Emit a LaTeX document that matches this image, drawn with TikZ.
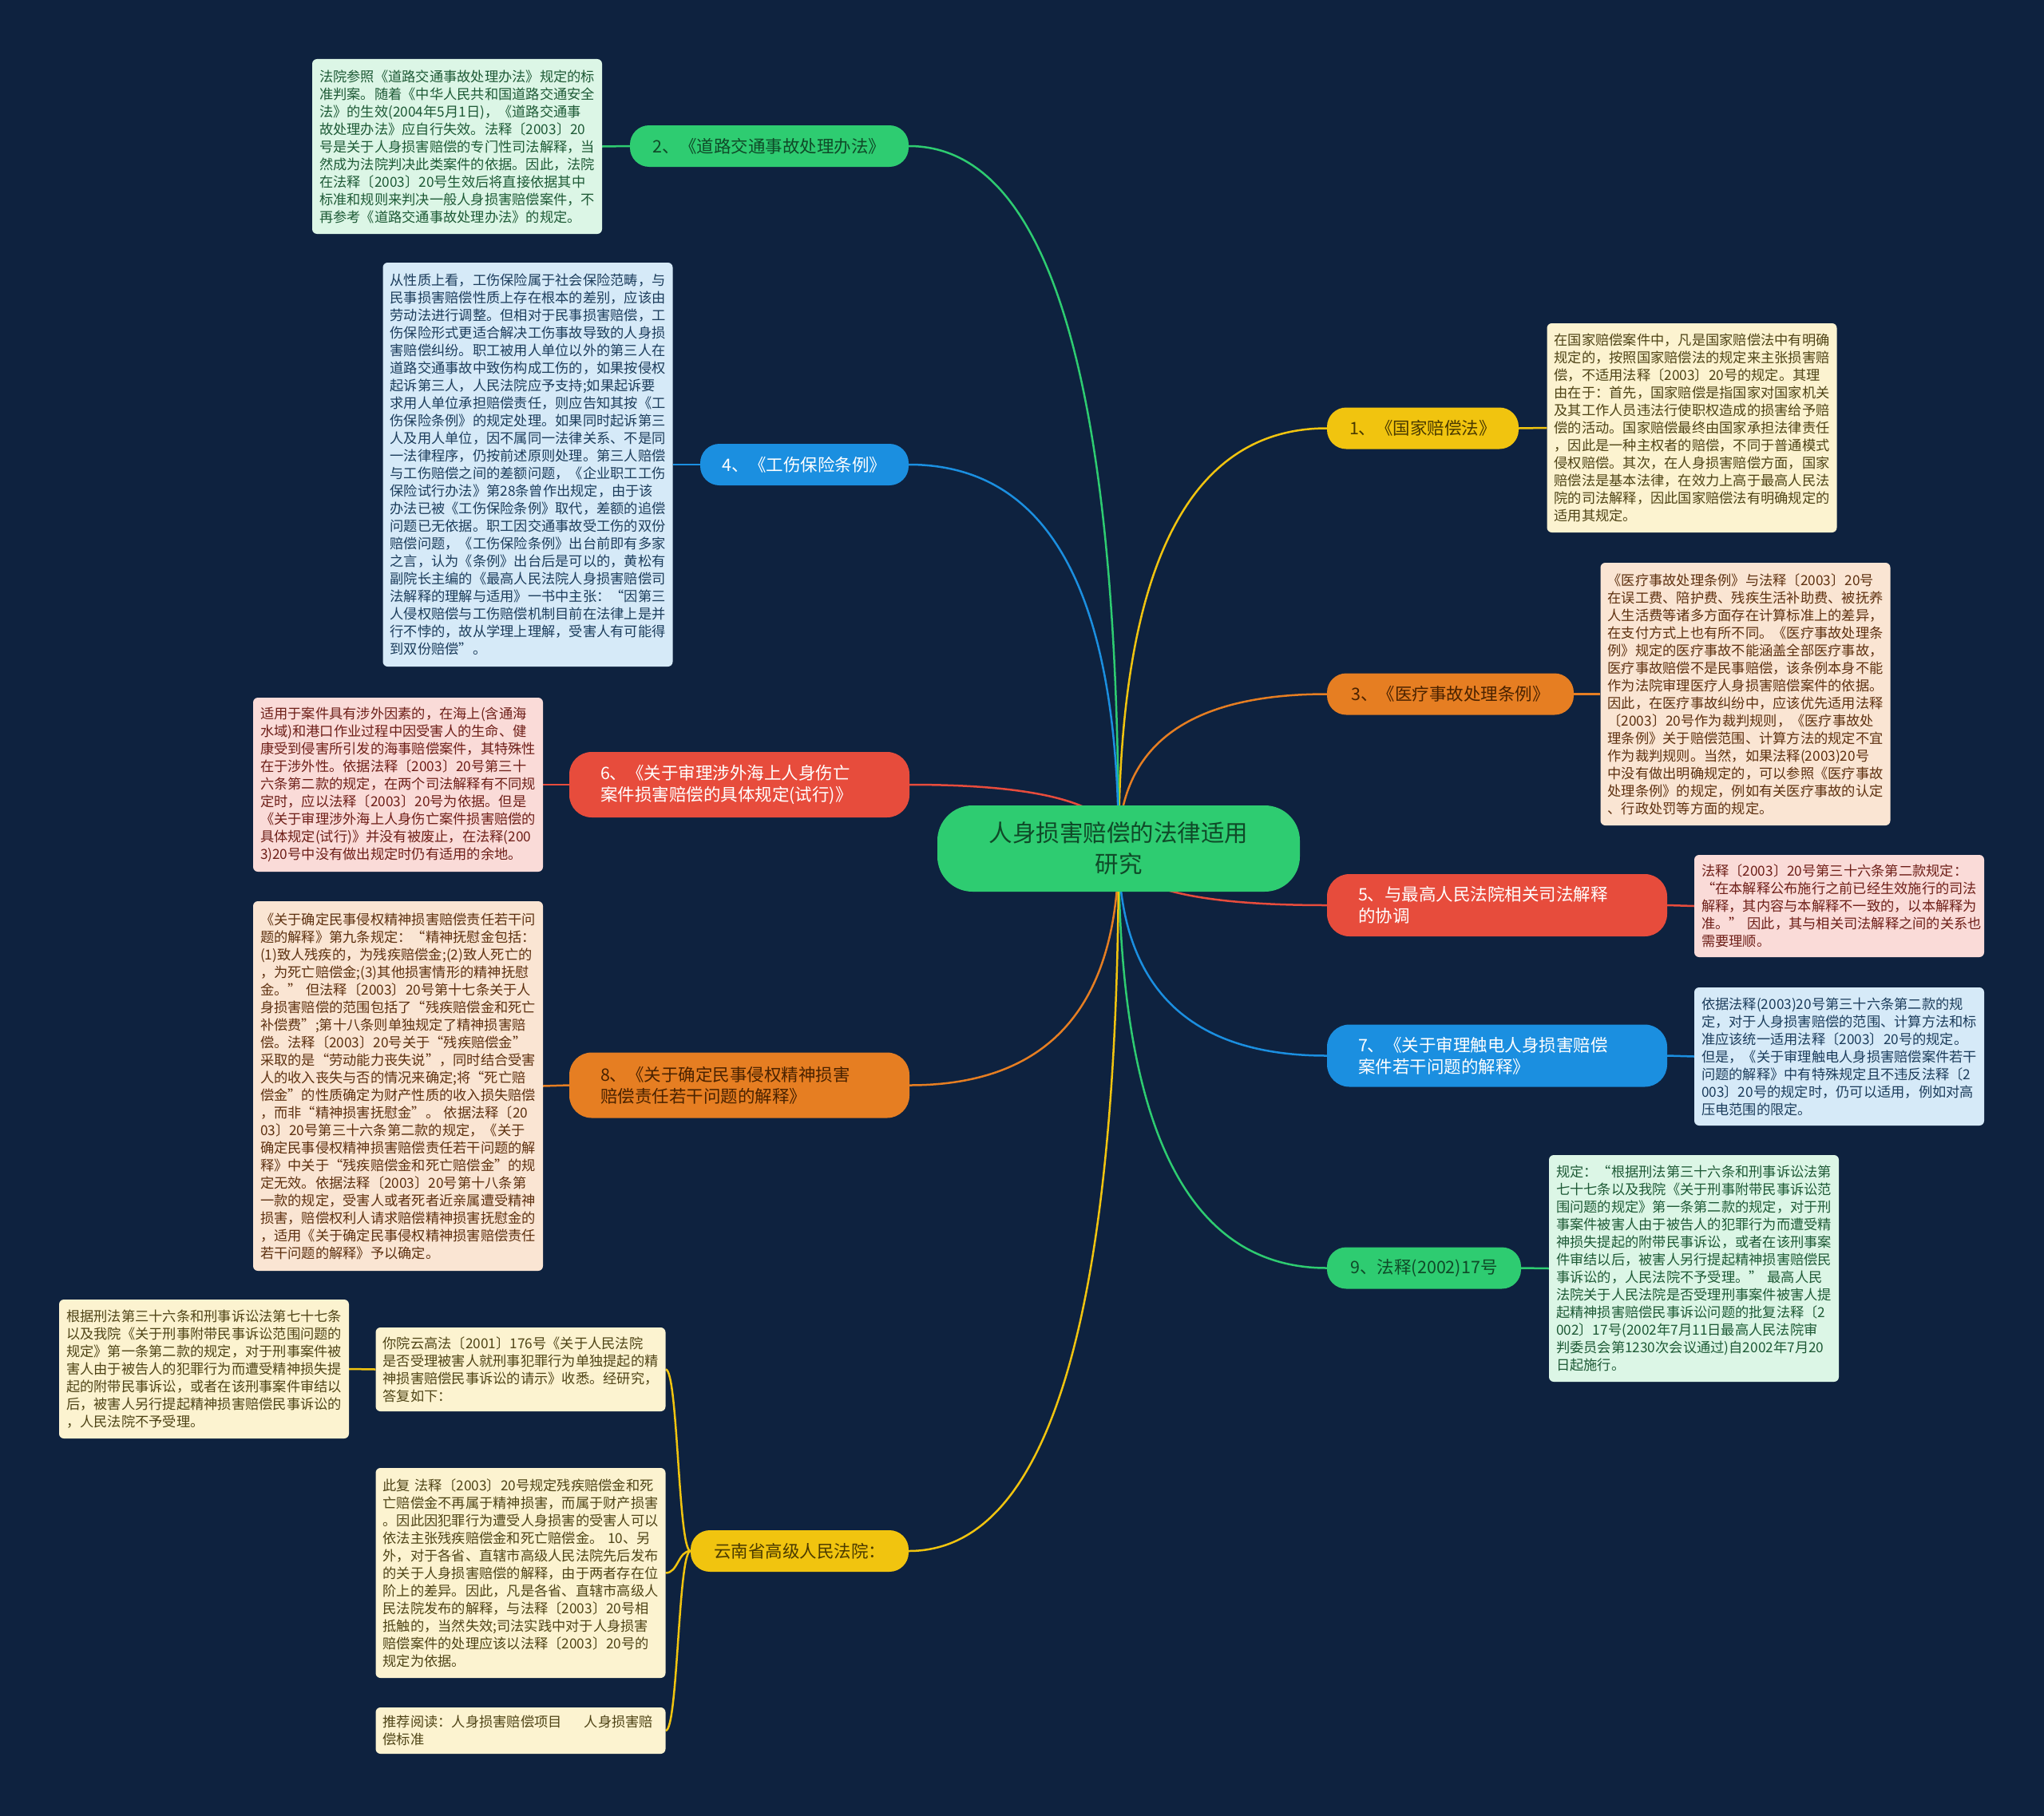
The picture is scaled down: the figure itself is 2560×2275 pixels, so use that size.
\documentclass[tikz,border=0pt]{standalone}
\usepackage{fontspec}
\setmainfont{Noto Sans CJK SC}
\usetikzlibrary{calc}
\pgfdeclarelayer{background}
\pgfsetlayers{background,main}
\definecolor{bgc}{HTML}{0E223F}
\definecolor{cgrn}{HTML}{2ECC71}
\definecolor{cblu}{HTML}{1B8FE0}
\definecolor{cred}{HTML}{E74C3C}
\definecolor{corg}{HTML}{E67E22}
\definecolor{cyel}{HTML}{F1C40F}
\definecolor{tgrn}{HTML}{0F4A28}
\definecolor{tyel}{HTML}{4A3A00}
\definecolor{torg}{HTML}{4A2200}
\definecolor{fgrn}{HTML}{DCF6E6}
\definecolor{fblu}{HTML}{D6EAF8}
\definecolor{fyel}{HTML}{FCF3D0}
\definecolor{forg}{HTML}{FAE5D3}
\definecolor{fred}{HTML}{FADBD8}
\definecolor{xgrn}{HTML}{1E5A36}
\definecolor{xblu}{HTML}{1C3D5C}
\definecolor{xyel}{HTML}{4F4416}
\definecolor{xorg}{HTML}{5E3110}
\definecolor{xred}{HTML}{6E1F18}
\tikzset{
  txtbox/.style={rounded corners=6, inner xsep=9, inner ysep=0, text width=345,
    align=left, font=\fontsize{17.25}{22}\selectfont, minimum height=#1},
  gbox/.style={txtbox=#1, fill=fgrn, text=xgrn},
  bbox/.style={txtbox=#1, fill=fblu, text=xblu},
  ybox/.style={txtbox=#1, fill=fyel, text=xyel},
  obox/.style={txtbox=#1, fill=forg, text=xorg},
  rbox/.style={txtbox=#1, fill=fred, text=xred},
  branch/.style={rounded corners=24, inner sep=0, font=\fontsize{21.5}{27}\selectfont,
    minimum height=52, align=center},
  branchtwo/.style={rounded corners=28, inner ysep=0, inner xsep=39, font=\fontsize{21.5}{27}\selectfont,
    minimum height=#1, text width=348, align=left},
  rootnode/.style={rounded corners=44, fill=cgrn, text=tgrn, minimum width=454, minimum height=108,
    inner sep=0, align=center, font=\fontsize{29.5}{39}\selectfont},
  conn/.style={line width=2.5},
}
\begin{document}
\begin{tikzpicture}[x=1pt,y=-1pt]
\begin{pgfonlayer}{background}
\fill[bgc] (0,0) rectangle (2560,2275);
\end{pgfonlayer}

\node[rootnode] (root) at (1401,1063) {人身损害赔偿的法律适用\\研究};

% right branches
\node[branch, fill=cyel, text=tyel, minimum width=240] (n1) at (1782,536.5) {1、《国家赔偿法》};
\node[branch, fill=corg, text=torg, minimum width=309] (n3) at (1816.5,869.5) {3、《医疗事故处理条例》};
\node[branchtwo=78, fill=cred, text=white] (n5) at (1875,1134) {5、与最高人民法院相关司法解释\\的协调};
\node[branchtwo=78, fill=cblu, text=white] (n7) at (1875,1322.5) {7、《关于审理触电人身损害赔偿\\案件若干问题的解释》};
\node[branch, fill=cgrn, text=tgrn, minimum width=243] (n9) at (1783.5,1588.5) {9、法释(2002)17号};

% left branches
\node[branch, fill=cgrn, text=tgrn, minimum width=349] (n2) at (963.5,183) {2、《道路交通事故处理办法》};
\node[branch, fill=cblu, text=white, minimum width=261] (n4) at (1007.5,582) {4、《工伤保险条例》};
\node[branchtwo=82, fill=cred, text=white] (n6) at (926,983) {6、《关于审理涉外海上人身伤亡\\案件损害赔偿的具体规定(试行)》};
\node[branchtwo=82, fill=corg, text=torg] (n8) at (926,1359.5) {8、《关于确定民事侵权精神损害\\赔偿责任若干问题的解释》};
\node[branch, fill=cyel, text=tyel, minimum width=273] (ny) at (1001.5,1943) {云南省高级人民法院：};

% text boxes
\node[gbox=219] (b2) at (572.5,183.5) {法院参照《道路交通事故处理办法》规定的标\\准判案。随着《中华人民共和国道路交通安全\\法》的生效(2004年5月1日)，《道路交通事\\故处理办法》应自行失效。法释〔2003〕20\\号是关于人身损害赔偿的专门性司法解释，当\\然成为法院判决此类案件的依据。因此，法院\\在法释〔2003〕20号生效后将直接依据其中\\标准和规则来判决一般人身损害赔偿案件，不\\再参考《道路交通事故处理办法》的规定。};

\node[bbox=506] (b4) at (661,582) {从性质上看，工伤保险属于社会保险范畴，与\\民事损害赔偿性质上存在根本的差别，应该由\\劳动法进行调整。但相对于民事损害赔偿，工\\伤保险形式更适合解决工伤事故导致的人身损\\害赔偿纠纷。职工被用人单位以外的第三人在\\道路交通事故中致伤构成工伤的，如果按侵权\\起诉第三人，人民法院应予支持;如果起诉要\\求用人单位承担赔偿责任，则应告知其按《工\\伤保险条例》的规定处理。如果同时起诉第三\\人及用人单位，因不属同一法律关系、不是同\\一法律程序，仍按前述原则处理。第三人赔偿\\与工伤赔偿之间的差额问题，《企业职工工伤\\保险试行办法》第28条曾作出规定，由于该\\办法已被《工伤保险条例》取代，差额的追偿\\问题已无依据。职工因交通事故受工伤的双份\\赔偿问题，《工伤保险条例》出台前即有多家\\之言，认为《条例》出台后是可以的，黄松有\\副院长主编的《最高人民法院人身损害赔偿司\\法解释的理解与适用》一书中主张：“因第三\\人侵权赔偿与工伤赔偿机制目前在法律上是并\\行不悖的，故从学理上理解，受害人有可能得\\到双份赔偿”。};

\node[ybox=262] (b1) at (2119,536) {在国家赔偿案件中，凡是国家赔偿法中有明确\\规定的，按照国家赔偿法的规定来主张损害赔\\偿，不适用法释〔2003〕20号的规定。其理\\由在于：首先，国家赔偿是指国家对国家机关\\及其工作人员违法行使职权造成的损害给予赔\\偿的活动。国家赔偿最终由国家承担法律责任\\，因此是一种主权者的赔偿，不同于普通模式\\侵权赔偿。其次，在人身损害赔偿方面，国家\\赔偿法是基本法律，在效力上高于最高人民法\\院的司法解释，因此国家赔偿法有明确规定的\\适用其规定。};

\node[obox=329] (b3) at (2186,869.5) {《医疗事故处理条例》与法释〔2003〕20号\\在误工费、陪护费、残疾生活补助费、被抚养\\人生活费等诸多方面存在计算标准上的差异，\\在支付方式上也有所不同。《医疗事故处理条\\例》规定的医疗事故不能涵盖全部医疗事故，\\医疗事故赔偿不是民事赔偿，该条例本身不能\\作为法院审理医疗人身损害赔偿案件的依据。\\因此，在医疗事故纠纷中，应该优先适用法释\\〔2003〕20号作为裁判规则，《医疗事故处\\理条例》关于赔偿范围、计算方法的规定不宜\\作为裁判规则。当然，如果法释(2003)20号\\中没有做出明确规定的，可以参照《医疗事故\\处理条例》的规定，例如有关医疗事故的认定\\、行政处罚等方面的规定。};

\node[rbox=218] (b6) at (498.5,983) {适用于案件具有涉外因素的，在海上(含通海\\水域)和港口作业过程中因受害人的生命、健\\康受到侵害所引发的海事赔偿案件，其特殊性\\在于涉外性。依据法释〔2003〕20号第三十\\六条第二款的规定，在两个司法解释有不同规\\定时，应以法释〔2003〕20号为依据。但是\\《关于审理涉外海上人身伤亡案件损害赔偿的\\具体规定(试行)》并没有被废止，在法释(200\\3)20号中没有做出规定时仍有适用的余地。};

\node[obox=463] (b8) at (498.5,1360.5) {《关于确定民事侵权精神损害赔偿责任若干问\\题的解释》第九条规定：“精神抚慰金包括：\\(1)致人残疾的，为残疾赔偿金;(2)致人死亡的\\，为死亡赔偿金;(3)其他损害情形的精神抚慰\\金。”~但法释〔2003〕20号第十七条关于人\\身损害赔偿的范围包括了“残疾赔偿金和死亡\\补偿费”;第十八条则单独规定了精神损害赔\\偿。法释〔2003〕20号关于“残疾赔偿金”\\采取的是“劳动能力丧失说”，同时结合受害\\人的收入丧失与否的情况来确定;将“死亡赔\\偿金”的性质确定为财产性质的收入损失赔偿\\，而非“精神损害抚慰金”。~依据法释〔20\\03〕20号第三十六条第二款的规定，《关于\\确定民事侵权精神损害赔偿责任若干问题的解\\释》中关于“残疾赔偿金和死亡赔偿金”的规\\定无效。依据法释〔2003〕20号第十八条第\\一款的规定，受害人或者死者近亲属遭受精神\\损害，赔偿权利人请求赔偿精神损害抚慰金的\\，适用《关于确定民事侵权精神损害赔偿责任\\若干问题的解释》予以确定。};

\node[rbox=128] (b5) at (2303.5,1135) {法释〔2003〕20号第三十六条第二款规定：\\“在本解释公布施行之前已经生效施行的司法\\解释，其内容与本解释不一致的，以本解释为\\准。”~因此，其与相关司法解释之间的关系也\\需要理顺。};

\node[bbox=173] (b7) at (2303.5,1323.5) {依据法释(2003)20号第三十六条第二款的规\\定，对于人身损害赔偿的范围、计算方法和标\\准应该统一适用法释〔2003〕20号的规定。\\但是，《关于审理触电人身损害赔偿案件若干\\问题的解释》中有特殊规定且不违反法释〔2\\003〕20号的规定时，仍可以适用，例如对高\\压电范围的限定。};

\node[gbox=284] (b9) at (2121.5,1589) {规定：“根据刑法第三十六条和刑事诉讼法第\\七十七条以及我院《关于刑事附带民事诉讼范\\围问题的规定》第一条第二款的规定，对于刑\\事案件被害人由于被告人的犯罪行为而遭受精\\神损失提起的附带民事诉讼，或者在该刑事案\\件审结以后，被害人另行提起精神损害赔偿民\\事诉讼的，人民法院不予受理。”~最高人民\\法院关于人民法院是否受理刑事案件被害人提\\起精神损害赔偿民事诉讼问题的批复法释〔2\\002〕17号(2002年7月11日最高人民法院审\\判委员会第1230次会议通过)自2002年7月20\\日起施行。};

\node[ybox=105] (y1) at (652,1715.5) {你院云高法〔2001〕176号《关于人民法院\\是否受理被害人就刑事犯罪行为单独提起的精\\神损害赔偿民事诉讼的请示》收悉。经研究，\\答复如下：};

\node[ybox=263] (y2) at (652,1970.5) {此复~法释〔2003〕20号规定残疾赔偿金和死\\亡赔偿金不再属于精神损害，而属于财产损害\\。因此因犯罪行为遭受人身损害的受害人可以\\依法主张残疾赔偿金和死亡赔偿金。~10、另\\外，对于各省、直辖市高级人民法院先后发布\\的关于人身损害赔偿的解释，由于两者存在位\\阶上的差异。因此，凡是各省、直辖市高级人\\民法院发布的解释，与法释〔2003〕20号相\\抵触的，当然失效;司法实践中对于人身损害\\赔偿案件的处理应该以法释〔2003〕20号的\\规定为依据。};

\node[ybox=58] (y3) at (652,2168) {推荐阅读：人身损害赔偿项目\hspace{28pt}人身损害赔\\偿标准};

\node[ybox=174] (bl) at (255.5,1715) {根据刑法第三十六条和刑事诉讼法第七十七条\\以及我院《关于刑事附带民事诉讼范围问题的\\规定》第一条第二款的规定，对于刑事案件被\\害人由于被告人的犯罪行为而遭受精神损失提\\起的附带民事诉讼，或者在该刑事案件审结以\\后，被害人另行提起精神损害赔偿民事诉讼的\\，人民法院不予受理。};

\begin{pgfonlayer}{background}
\foreach \n/\c in {n1/cyel, n3/corg, n5/cred, n7/cblu, n9/cgrn}{
  \draw[conn,\c] (root.center) .. controls ($(root.center)!0.667!(root.center|-\n.west)$) and ($(\n.west)!0.667!(root.center|-\n.west)$) .. (\n.west);
}
\foreach \n/\c in {n2/cgrn, n4/cblu, n6/cred, n8/corg, ny/cyel}{
  \draw[conn,\c] (root.center) .. controls ($(root.center)!0.667!(root.center|-\n.east)$) and ($(\n.east)!0.667!(root.center|-\n.east)$) .. (\n.east);
}
\draw[conn,cyel] (n1.east) -- (b1.west);
\draw[conn,corg] (n3.east) -- (b3.west);
\draw[conn,cred] (n5.east) -- (b5.west);
\draw[conn,cblu] (n7.east) -- (b7.west);
\draw[conn,cgrn] (n9.east) -- (b9.west);
\draw[conn,cgrn] (n2.west) -- (b2.east);
\draw[conn,cblu] (n4.west) -- (b4.east);
\draw[conn,cred] (n6.west) -- (b6.east);
\draw[conn,corg] (n8.west) -- (b8.east);
\foreach \k in {y1,y2,y3}{
  \draw[conn,cyel] (ny.west) .. controls ($(ny.west)!0.5!(ny.west-|\k.east)$) and ($(\k.east)!0.5!(\k.east-|ny.west)$) .. (\k.east);
}
\draw[conn,cyel] (y1.west) -- (bl.east);
\end{pgfonlayer}
\end{tikzpicture}
\end{document}
